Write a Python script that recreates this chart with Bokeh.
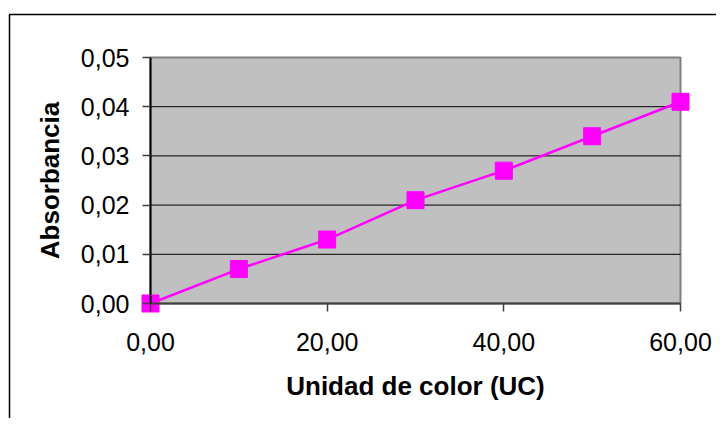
from bokeh.plotting import figure
from bokeh.models import FixedTicker, Range1d, BoxAnnotation, CustomJSTickFormatter
from bokeh.embed import file_html
from bokeh.resources import INLINE

# ---- data ----
unidad_color = [0, 10, 20, 30, 40, 50, 60]
absorbancia = [0.0, 0.007, 0.013, 0.021, 0.027, 0.034, 0.041]
x_ticks = [0, 20, 40, 60]
x_tick_labels = ["0,00", "20,00", "40,00", "60,00"]
y_ticks = [0.0, 0.01, 0.02, 0.03, 0.04, 0.05]
y_tick_labels = ["0,00", "0,01", "0,02", "0,03", "0,04", "0,05"]
y_grid_ticks = [0.01, 0.02, 0.03, 0.04]
x_title = "Unidad de color (UC)"
y_title = "Absorbancia"
x_lim = (0, 60)
y_lim = (0, 0.05)

FONT = "Liberation Sans"

# frame covers the whole canvas; the ranges place the plot area inside it
W, H = 716, 418
AREA_L, AREA_R, AREA_T, AREA_B = 150, 680, 57, 303   # pixel box of gray area
sx = (AREA_R - AREA_L) / (x_lim[1] - x_lim[0])
sy = (AREA_B - AREA_T) / (y_lim[1] - y_lim[0])
x_range = Range1d(x_lim[0] - AREA_L / sx, x_lim[1] + (W - AREA_R) / sx)
y_range = Range1d(y_lim[0] - (H - AREA_B) / sy, y_lim[1] + AREA_T / sy)

p = figure(width=W, height=H, output_backend="svg", toolbar_location=None,
           x_range=x_range, y_range=y_range,
           min_border_left=0, min_border_right=0, min_border_top=0,
           min_border_bottom=0)
p.outline_line_color = None
p.background_fill_color = "white"
p.border_fill_color = "white"

# gray plot area
p.quad(left=[x_lim[0]], right=[x_lim[1]], bottom=[y_lim[0]], top=[y_lim[1]],
       fill_color="#C0C0C0", line_color="#808080", line_width=2)

# grid lines (within plot area only)
p.xgrid.visible = False
p.ygrid.visible = False
p.segment(x0=[x_lim[0]] * len(y_grid_ticks), x1=[x_lim[1]] * len(y_grid_ticks),
          y0=y_grid_ticks, y1=y_grid_ticks, line_color="black", line_width=1)

fmt_code = """
let best = 0, bd = Infinity;
for (let i = 0; i < tvals.length; i++) {
  const d = Math.abs(tvals[i] - tick);
  if (d < bd) { bd = d; best = i; }
}
return tlabels[best];
"""

# axes
for ax, ticks, labels, lim in ((p.xaxis[0], x_ticks, x_tick_labels, x_lim),
                               (p.yaxis[0], y_ticks, y_tick_labels, y_lim)):
    ax.fixed_location = 0
    ax.bounds = lim
    ax.ticker = FixedTicker(ticks=ticks)
    ax.formatter = CustomJSTickFormatter(args=dict(tvals=ticks, tlabels=labels), code=fmt_code)
    ax.minor_tick_line_color = None
    ax.major_tick_out = 8
    ax.major_tick_in = 0
    ax.major_tick_line_color = "#404040"
    ax.major_tick_line_width = 1.5
    ax.major_label_text_font = FONT
    ax.major_label_text_font_size = "25px"
    ax.major_label_text_color = "black"
    ax.axis_label_text_font = FONT
    ax.axis_label_text_font_size = "26px"
    ax.axis_label_text_font_style = "bold"
    ax.axis_label_text_color = "black"

p.xaxis.axis_label = x_title
p.yaxis.axis_label = y_title
p.xaxis.axis_line_color = "#404040"
p.xaxis.axis_line_width = 2
p.yaxis.axis_line_color = "black"
p.yaxis.axis_line_width = 2
p.xaxis.major_label_standoff = 21
p.yaxis.major_label_standoff = 13
p.xaxis.axis_label_standoff = 17
p.yaxis.axis_label_standoff = 13

# series
p.line(unidad_color, absorbancia, line_color="#FF00FF", line_width=2.5)
p.scatter(unidad_color, absorbancia, marker="square", size=17,
          fill_color="#FF00FF", line_color="#FF00FF")

# outer chart border
p.add_layout(BoxAnnotation(left=9, top=14, right=740, bottom=440,
                           left_units="canvas", right_units="canvas",
                           top_units="canvas", bottom_units="canvas",
                           fill_color=None, fill_alpha=0, line_color="black",
                           line_alpha=1.0, line_width=1.5, level="overlay"))

open("out.html", "w").write(file_html(p, INLINE))
